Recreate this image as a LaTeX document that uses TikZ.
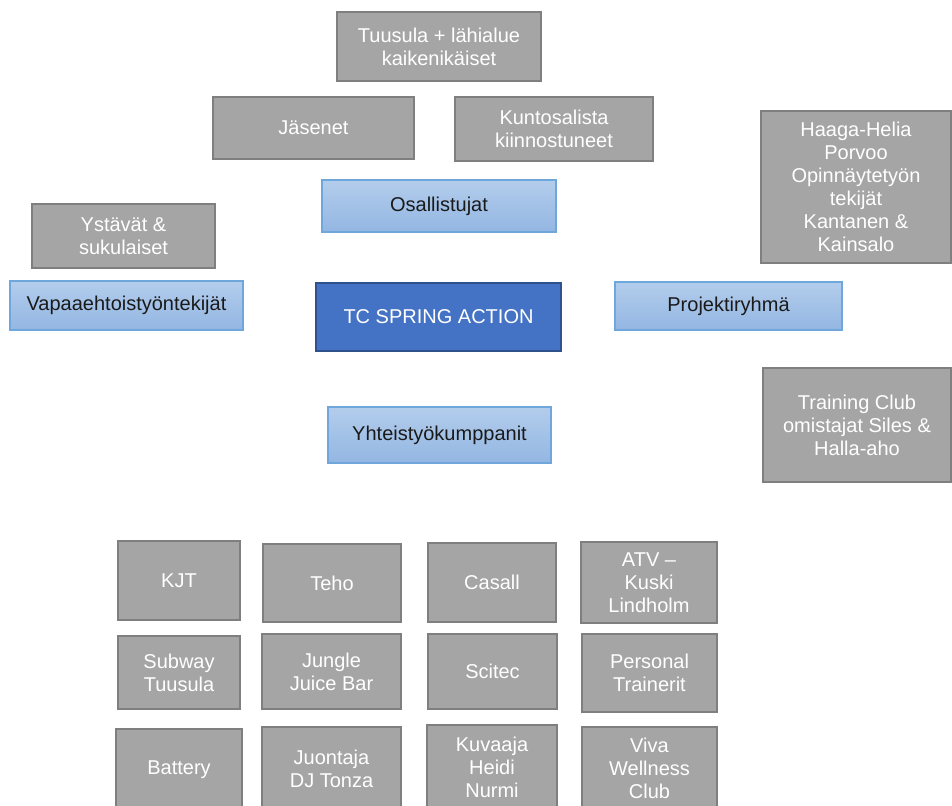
\documentclass[tikz,border=0pt]{standalone}
\usepackage{fontspec}
\setmainfont{Liberation Sans}
\definecolor{gfill}{HTML}{A5A5A5}
\definecolor{gline}{HTML}{7F7F7F}
\definecolor{btop}{HTML}{B3CDEC}
\definecolor{bbot}{HTML}{93B6E2}
\definecolor{bline}{HTML}{6FA6DC}
\definecolor{cfill}{HTML}{4472C4}
\definecolor{cline}{HTML}{2F528F}
\definecolor{btext}{HTML}{1A1A1A}
\tikzset{
  base/.style={rectangle, inner sep=0pt, outer sep=0pt, align=center,
    font=\fontsize{20}{23}\selectfont, line width=1.2pt},
  gbox/.style={base, fill=gfill, draw=gline, text=white},
  bbox/.style={base, top color=btop, bottom color=bbot, draw=bline, text=btext},
  cbox/.style={base, fill=cfill, draw=cline, text=white}
}
\begin{document}
\begin{tikzpicture}[x=1pt,y=-1pt]
\useasboundingbox (0,0) rectangle (952,805);
% participants
\node[gbox, minimum width=204pt, minimum height=69pt] (tuusula) at (439,46.5) {Tuusula + lähialue\\kaikenikäiset};
\node[gbox, minimum width=201pt, minimum height=62pt] (jasenet) at (313.5,128) {Jäsenet};
\node[gbox, minimum width=198pt, minimum height=64pt] (kunto) at (554,129) {Kuntosalista\\kiinnostuneet};
\node[bbox, minimum width=234pt, minimum height=52pt] (osall) at (439,206) {Osallistujat};
% volunteers
\node[gbox, minimum width=183pt, minimum height=64pt] (ystavat) at (123.5,236) {Ystävät \&\\sukulaiset};
\node[bbox, minimum width=233pt, minimum height=49pt] (vapaa) at (126.5,305.5) {Vapaaehtoistyöntekijät};
% centre
\node[cbox, minimum width=245pt, minimum height=68pt] (tc) at (438.5,317) {TC SPRING ACTION};
% project group
\node[bbox, minimum width=227pt, minimum height=48pt] (projekti) at (728.5,306) {Projektiryhmä};
\node[gbox, minimum width=190pt, minimum height=152pt] (haaga) at (856,187) {Haaga-Helia\\Porvoo\\Opinnäytetyön\\tekijät\\Kantanen \&\\Kainsalo};
\node[gbox, minimum width=188pt, minimum height=114pt] (training) at (857,425) {Training Club\\omistajat Siles \&\\Halla-aho};
% partners
\node[bbox, minimum width=223pt, minimum height=56pt] (yhteis) at (439.5,435) {Yhteistyökumppanit};
\node[gbox, minimum width=122pt, minimum height=79pt] (kjt) at (179,580.5) {KJT};
\node[gbox, minimum width=138pt, minimum height=78pt] (teho) at (332,583) {Teho};
\node[gbox, minimum width=128pt, minimum height=79pt] (casall) at (492,582.5) {Casall};
\node[gbox, minimum width=136pt, minimum height=81pt] (atv) at (649,582.5) {ATV –\\Kuski\\Lindholm};
\node[gbox, minimum width=122pt, minimum height=73pt] (subway) at (179,672.5) {Subway\\Tuusula};
\node[gbox, minimum width=139pt, minimum height=75pt] (jungle) at (331.5,671.5) {Jungle\\Juice Bar};
\node[gbox, minimum width=129pt, minimum height=75pt] (scitec) at (492.5,671.5) {Scitec};
\node[gbox, minimum width=135pt, minimum height=78pt] (personal) at (649.5,673) {Personal\\Trainerit};
\node[gbox, minimum width=126pt, minimum height=81pt] (battery) at (179,769.5) {Battery};
\node[gbox, minimum width=139pt, minimum height=83pt] (juontaja) at (331.5,768.5) {Juontaja\\DJ Tonza};
\node[gbox, minimum width=130pt, minimum height=85pt] (kuvaaja) at (492,767.5) {Kuvaaja\\Heidi\\Nurmi};
\node[gbox, minimum width=135pt, minimum height=83pt] (viva) at (649.5,768.5) {Viva\\Wellness\\Club};
\end{tikzpicture}
\end{document}
